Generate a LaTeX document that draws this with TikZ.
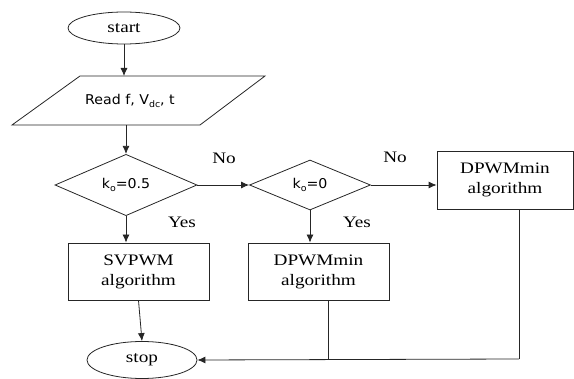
\documentclass[tikz,border=0pt]{standalone}
\usepackage{fontspec}
\setmainfont{Liberation Serif}
\newfontfamily\serifw[FakeStretch=1.2]{Liberation Serif}
\newfontfamily\sansw[FakeStretch=1.05]{DejaVu Sans}
\usetikzlibrary{shapes.geometric,arrows.meta}
\newcommand\subtxt[1]{\raisebox{-0.35ex}{\fontsize{9}{9}\selectfont #1}}
\tikzset{
  line/.style={draw=black!85,line width=0.8pt},
  arr/.style={line,-{Latex[length=8pt,width=7pt]}},
  stxt/.style={font=\serifw\fontsize{16}{20}\selectfont,align=center},
  sanstxt/.style={font=\sansw\fontsize{13.5}{16}\selectfont},
  term/.style={ellipse,line,stxt,inner sep=0pt},
  dec/.style={diamond,line,sanstxt,inner sep=0pt},
  proc/.style={rectangle,line,stxt,inner sep=0pt},
  lbl/.style={stxt}
}
\begin{document}
\begin{tikzpicture}[x=1pt,y=-1pt]
\useasboundingbox (0,0) rectangle (574,379);
\node[term,minimum width=112pt,minimum height=32pt] (start) at (124,28) {start};
\draw[line] (80,76) -- (265,76) -- (200,125) -- (12,125) -- cycle;
\node[sanstxt] (read) at (130,101) {Read f, V\subtxt{dc}, t};
\coordinate (readtop) at (124,76);
\coordinate (readbot) at (126,125);
\node[dec,minimum width=142pt,minimum height=49pt] (d1) at (126,185) {k\subtxt{o}=0.5};
\node[dec,minimum width=121pt,minimum height=50pt] (d2) at (310,185) {k\subtxt{o}=0};
\node[proc,minimum width=136pt,minimum height=58pt] (rbox) at (505,180) {DPWMmin\\algorithm};
\node[proc,minimum width=141pt,minimum height=57pt] (sv) at (138.5,271.5) {SVPWM\\algorithm};
\node[proc,minimum width=141pt,minimum height=57pt] (mid) at (318.5,271.5) {DPWMmin\\algorithm};
\node[term,minimum width=110pt,minimum height=37pt] (stop) at (142,360) {stop};
\coordinate (c1) at (519,359);
\coordinate (c2) at (328,359);
\draw[arr] (start) -- (readtop);
\draw[arr] (readbot) -- (d1.north);
\draw[arr] (d1.east) -- (d2.west);
\draw[arr] (d2.east) -- (d2.east -| rbox.west);
\draw[arr] (d1.south) -- (d1.south |- sv.north);
\draw[arr] (d2.south) -- (d2.south |- mid.north);
\draw[arr] (sv.south) -- (stop.north);
\draw[line] (rbox.south -| c1) -- (c1);
\draw[arr] (c1) -- (stop.east);
\draw[line] (mid.south -| c2) -- (c2);
\node[lbl] (no1) at (224,158) {No};
\node[lbl] (no2) at (395,157) {No};
\node[lbl] (yes1) at (182,222) {Yes};
\node[lbl] (yes2) at (357,222) {Yes};
\end{tikzpicture}
\end{document}
